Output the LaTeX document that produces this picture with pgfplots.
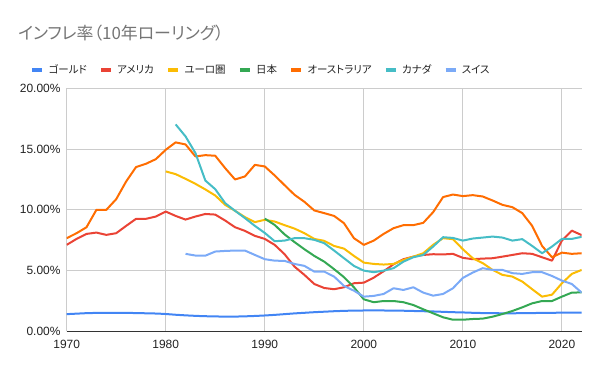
\documentclass[border=0pt]{standalone}
\usepackage{fontspec}
\setmainfont{Liberation Sans}
\newfontfamily\jp[RawFeature=+palt]{Noto Sans CJK JP}
\usepackage{pgfplots}
\usepackage{pgfplotstable}
\pgfplotsset{compat=1.18}
\definecolor{cGold}{HTML}{4285F4}
\definecolor{cUSA}{HTML}{EA4335}
\definecolor{cEuro}{HTML}{FBBC04}
\definecolor{cJapan}{HTML}{34A853}
\definecolor{cAus}{HTML}{FF6D01}
\definecolor{cCan}{HTML}{46BDC6}
\definecolor{cSwiss}{HTML}{7BAAF7}
\definecolor{cGrid}{HTML}{CCCCCC}
\definecolor{cAxis}{HTML}{333333}
\definecolor{cTick}{HTML}{222222}
\definecolor{cTitle}{HTML}{757575}

\pgfplotstableread{
year gold usa euro japan aus can swiss
1970 1.42 7.12 nan nan 7.67 nan nan
1971 1.46 7.61 nan nan 8.08 nan nan
1972 1.50 8.02 nan nan 8.57 nan nan
1973 1.52 8.13 nan nan 10.00 nan nan
1974 1.53 7.94 nan nan 10.00 nan nan
1975 1.53 8.08 nan nan 10.88 nan nan
1976 1.52 8.68 nan nan 12.33 nan nan
1977 1.51 9.26 nan nan 13.52 nan nan
1978 1.49 9.26 nan nan 13.79 nan nan
1979 1.47 9.45 nan nan 14.17 nan nan
1980 1.43 9.86 13.16 nan 14.94 nan nan
1981 1.37 9.50 12.94 nan 15.55 17.03 nan
1982 1.32 9.20 12.55 nan 15.38 16.04 6.38
1983 1.28 9.45 12.14 nan 14.39 14.67 6.24
1984 1.25 9.66 11.68 nan 14.50 12.41 6.23
1985 1.23 9.61 11.18 nan 14.45 11.70 6.57
1986 1.22 9.12 10.41 nan 13.43 10.55 6.62
1987 1.22 8.57 9.92 nan 12.50 9.92 6.65
1988 1.24 8.27 9.40 nan 12.75 9.32 6.65
1989 1.27 7.86 8.99 nan 13.70 8.68 6.29
1990 1.31 7.61 9.18 9.28 13.57 8.10 5.94
1991 1.36 7.12 9.04 8.76 12.83 7.42 5.82
1992 1.42 6.35 8.74 7.98 12.03 7.47 5.80
1993 1.48 5.33 8.46 7.35 11.24 7.67 5.55
1994 1.53 4.65 8.08 6.76 10.66 7.67 5.39
1995 1.58 3.90 7.61 6.21 9.95 7.53 4.92
1996 1.62 3.57 7.45 5.74 9.73 7.26 4.92
1997 1.66 3.47 7.03 5.12 9.50 6.65 4.51
1998 1.69 3.63 6.81 4.46 8.90 6.02 3.74
1999 1.71 3.96 6.21 3.63 7.67 5.39 3.35
2000 1.72 4.01 5.66 2.64 7.12 5.00 2.86
2001 1.72 4.42 5.55 2.40 7.47 4.87 2.92
2002 1.72 4.95 5.50 2.50 8.02 5.00 3.08
2003 1.71 5.52 5.55 2.50 8.49 5.20 3.55
2004 1.70 5.94 5.88 2.40 8.74 5.74 3.41
2005 1.68 6.15 6.15 2.17 8.74 6.10 3.63
2006 1.66 6.29 6.43 1.82 8.93 6.29 3.19
2007 1.64 6.35 7.12 1.49 9.81 6.98 2.94
2008 1.61 6.33 7.67 1.16 11.05 7.75 3.08
2009 1.58 6.38 7.59 0.96 11.26 7.69 3.55
2010 1.56 6.05 6.76 0.96 11.13 7.47 4.40
2011 1.53 5.94 6.02 1.02 11.21 7.64 4.84
2012 1.51 5.99 5.62 1.05 11.10 7.72 5.20
2013 1.50 6.02 5.06 1.21 10.77 7.80 5.06
2014 1.49 6.15 4.65 1.43 10.41 7.72 5.06
2015 1.49 6.29 4.51 1.68 10.22 7.47 4.79
2016 1.50 6.43 4.10 1.98 9.73 7.59 4.73
2017 1.51 6.38 3.47 2.31 8.68 7.03 4.87
2018 1.52 6.10 2.86 2.50 7.03 6.43 4.87
2019 1.53 5.82 3.02 2.50 6.10 6.98 4.56
2020 1.54 7.47 3.96 2.86 6.48 7.61 4.18
2021 1.55 8.29 4.73 3.19 6.38 7.61 3.90
2022 1.55 7.92 5.06 3.21 6.43 7.78 3.19
}\datatable

\begin{document}
\begin{tikzpicture}
\useasboundingbox (0,0) rectangle (600bp,371bp);
\node[anchor=west, text=cTitle, font=\jp\fontsize{17}{19}\selectfont, inner sep=0pt] at (18bp,338bp) {インフレ率（10年ローリング）};
\begin{axis}[
  at={(66.7bp,39.6bp)}, anchor=south west,
  width=515bp, height=243.1bp, scale only axis,
  xmin=1970, xmax=2022, ymin=0, ymax=20,
  xtick={1970,1980,1990,2000,2010,2020},
  xticklabels={1970,1980,1990,2000,2010,2020},
  ytick={0,5,10,15,20},
  yticklabels={0.00\%,5.00\%,10.00\%,15.00\%,20.00\%},
  grid=major,
  major grid style={draw=cGrid, line width=0.8bp},
  major tick length=0pt,
  axis x line*=bottom, axis y line*=left,
  x axis line style={draw=cAxis, line width=1bp, -},
  y axis line style={draw=none},
  tick label style={font=\fontsize{12}{14}\selectfont, text=cTick, inner sep=1bp},
  xticklabel style={yshift=-8bp},
  yticklabel style={xshift=-5bp},
  legend style={at={(axis description cs:-0.0771,1.0753)}, anchor=west,
    draw=none, fill=none, font=\jp\fontsize{10.5}{12}\selectfont, text=cTick,
    /tikz/every odd column/.append style={column sep=2bp},
    /tikz/every even column/.append style={column sep=10bp}},
  legend columns=-1,
  legend image code/.code={\draw[#1, line width=4.5bp, line cap=butt] (0bp,0bp) -- (10bp,0bp);},
  every axis plot/.append style={line width=2bp, line join=round},
]
\addplot[cGold, no markers, smooth] table[x=year, y=gold] {\datatable};
\addlegendentry{ゴールド}
\addplot[cUSA, no markers] table[x=year, y=usa] {\datatable};
\addlegendentry{アメリカ}
\addplot[cEuro, no markers] table[x=year, y=euro] {\datatable};
\addlegendentry{ユーロ圏}
\addplot[cJapan, no markers] table[x=year, y=japan] {\datatable};
\addlegendentry{日本}
\addplot[cAus, no markers] table[x=year, y=aus] {\datatable};
\addlegendentry{オーストラリア}
\addplot[cCan, no markers] table[x=year, y=can] {\datatable};
\addlegendentry{カナダ}
\addplot[cSwiss, no markers] table[x=year, y=swiss] {\datatable};
\addlegendentry{スイス}
\end{axis}
\end{tikzpicture}
\end{document}
